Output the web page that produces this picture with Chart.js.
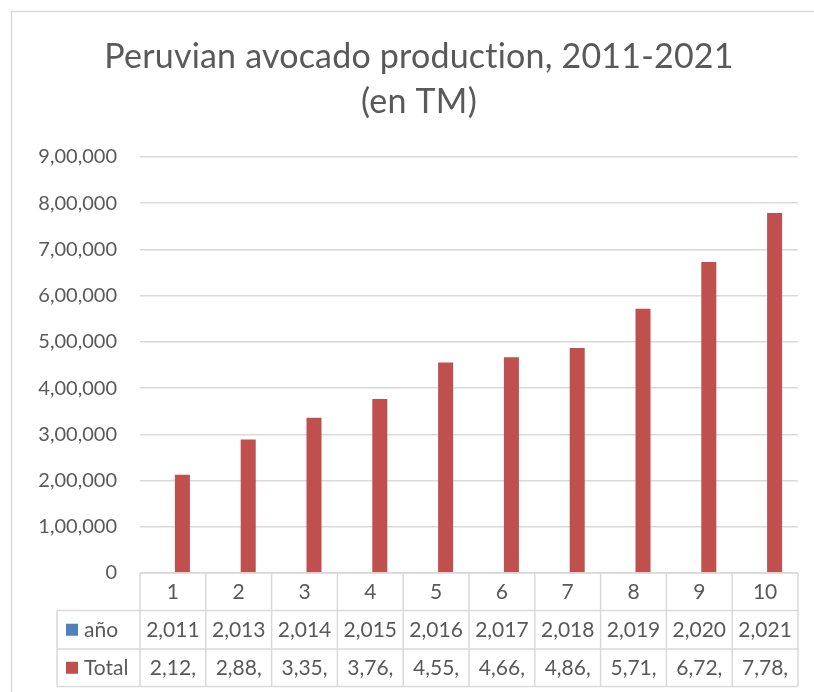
<!DOCTYPE html>
<html lang="en">

<head>
    <meta charset="UTF-8">
    <meta name="viewport" content="width=device-width, initial-scale=1.0">
    <title>Peruvian avocado production, 2011-2021</title>
    <style>
        body {
            background-color: #ffffff;
            margin: 0;
            padding: 0;
        }

        #chartBox {
            width: 814px;
            height: 692px;
        }
    </style>
</head>

<body>
    <div id="chartBox"><canvas id="barChart"></canvas></div>

    <script src="https://cdn.jsdelivr.net/npm/chart.js"></script>

    <script>
        const TITLE = ['Peruvian avocado production, 2011-2021', '(en TM)'];
        const CATEGORIES = ['1', '2', '3', '4', '5', '6', '7', '8', '9', '10'];
        const ANIO = [2011, 2013, 2014, 2015, 2016, 2017, 2018, 2019, 2020, 2021];
        const TOTAL = [212400, 288700, 335800, 376700, 455400, 466600, 486900, 571900, 672800, 778900];
        const Y_MAX = 900000;
        const Y_STEP = 100000;

        const TEXT_COLOR = '#595959';
        const LINE_COLOR = '#d9d9d9';
        const FONT = 'Lato';

        // Indian digit grouping, e.g. 900000 -> 9,00,000
        function formatIN(n) {
            var s = Math.round(n).toString();
            if (s.length <= 3) return s;
            var last3 = s.slice(-3);
            var rest = s.slice(0, -3).replace(/\B(?=(\d{2})+(?!\d))/g, ',');
            return rest + ',' + last3;
        }

        // outer frame of the chart object + title
        const framePlugin = {
            id: 'frame',
            beforeDraw(chart) {
                const c = chart.ctx;
                c.save();
                c.fillStyle = '#ffffff';
                c.fillRect(0, 0, chart.width, chart.height);
                c.strokeStyle = LINE_COLOR;
                c.lineWidth = 1.5;
                c.beginPath();
                c.moveTo(11.5, chart.height);
                c.lineTo(11.5, 11.5);
                c.lineTo(chart.width, 11.5);
                c.stroke();
                c.restore();
            },
            afterDraw(chart) {
                const c = chart.ctx;
                c.save();
                c.fillStyle = TEXT_COLOR;
                c.font = '34px ' + FONT;
                c.letterSpacing = '0.2px'; // no "ti" ligature
                c.textAlign = 'center';
                c.textBaseline = 'alphabetic';
                c.fillText(TITLE[0], 419, 68);
                c.fillText(TITLE[1], 419, 113);
                c.restore();
            }
        };

        // excel style data table under the plot
        const dataTablePlugin = {
            id: 'dataTable',
            afterDraw(chart) {
                const c = chart.ctx;
                const x = chart.scales.x;
                const area = chart.chartArea;
                const n = CATEGORIES.length;
                const colW = (area.right - area.left) / n;
                const top = area.bottom;
                const legendLeft = 57;
                const rows = [top, top + 37.5, top + 76, top + 113.5];

                c.save();
                c.strokeStyle = LINE_COLOR;
                c.lineWidth = 1.5;
                c.beginPath();
                c.moveTo(area.left, rows[0]);
                c.lineTo(area.right, rows[0]);
                for (var r = 1; r < rows.length; r++) {
                    c.moveTo(legendLeft, rows[r]);
                    c.lineTo(area.right, rows[r]);
                }
                c.moveTo(legendLeft, rows[1]);
                c.lineTo(legendLeft, rows[3]);
                for (var i = 0; i <= n; i++) {
                    var xx = area.left + i * colW;
                    c.moveTo(xx, rows[0]);
                    c.lineTo(xx, rows[3]);
                }
                c.stroke();

                c.fillStyle = TEXT_COLOR;
                c.font = '21px ' + FONT;
                c.textAlign = 'center';
                c.textBaseline = 'middle';
                for (var j = 0; j < n; j++) {
                    var cx = x.getPixelForValue(j);
                    c.fillText(CATEGORIES[j], cx, (rows[0] + rows[1]) / 2);
                    c.fillText(formatIN(ANIO[j]), cx, (rows[1] + rows[2]) / 2);
                    // excel cuts the long numbers to the cell width
                    c.fillText(formatIN(TOTAL[j]).slice(0, 5), cx, (rows[2] + rows[3]) / 2);
                }

                // legend keys
                const keys = [
                    { label: 'año', color: chart.data.datasets[0].backgroundColor },
                    { label: 'Total', color: chart.data.datasets[1].backgroundColor }
                ];
                c.textAlign = 'left';
                keys.forEach(function (k, idx) {
                    var cy = (rows[idx + 1] + rows[idx + 2]) / 2;
                    c.fillStyle = k.color;
                    c.fillRect(66, cy - 6, 12, 12);
                    c.fillStyle = TEXT_COLOR;
                    c.fillText(k.label, 84, cy);
                });
                c.restore();
            }
        };

        var ctx = document.getElementById('barChart').getContext('2d');

        var barChart = new Chart(ctx, {
            type: 'bar',
            data: {
                labels: CATEGORIES,
                datasets: [
                    {
                        label: 'año',
                        data: ANIO,
                        backgroundColor: '#4f81bd',
                        categoryPercentage: 0.578,
                        barPercentage: 0.79
                    },
                    {
                        label: 'Total',
                        data: TOTAL,
                        backgroundColor: '#c0504d',
                        categoryPercentage: 0.578,
                        barPercentage: 0.79
                    }
                ]
            },
            options: {
                responsive: true,
                maintainAspectRatio: false,
                animation: false,
                layout: {
                    padding: { left: 20, right: 16, top: 157, bottom: 119 }
                },
                scales: {
                    x: {
                        display: false
                    },
                    y: {
                        min: 0,
                        max: Y_MAX,
                        afterFit: function (scale) {
                            scale.width = 120;
                        },
                        border: { display: false },
                        grid: {
                            color: LINE_COLOR,
                            lineWidth: 1.5,
                            drawTicks: false
                        },
                        ticks: {
                            stepSize: Y_STEP,
                            padding: 23,
                            color: TEXT_COLOR,
                            font: { family: FONT, size: 20 },
                            callback: function (v) {
                                return formatIN(v);
                            }
                        }
                    }
                },
                plugins: {
                    legend: { display: false },
                    tooltip: { enabled: false },
                    title: { display: false }
                }
            },
            plugins: [framePlugin, dataTablePlugin]
        });
    </script>
</body>

</html>
